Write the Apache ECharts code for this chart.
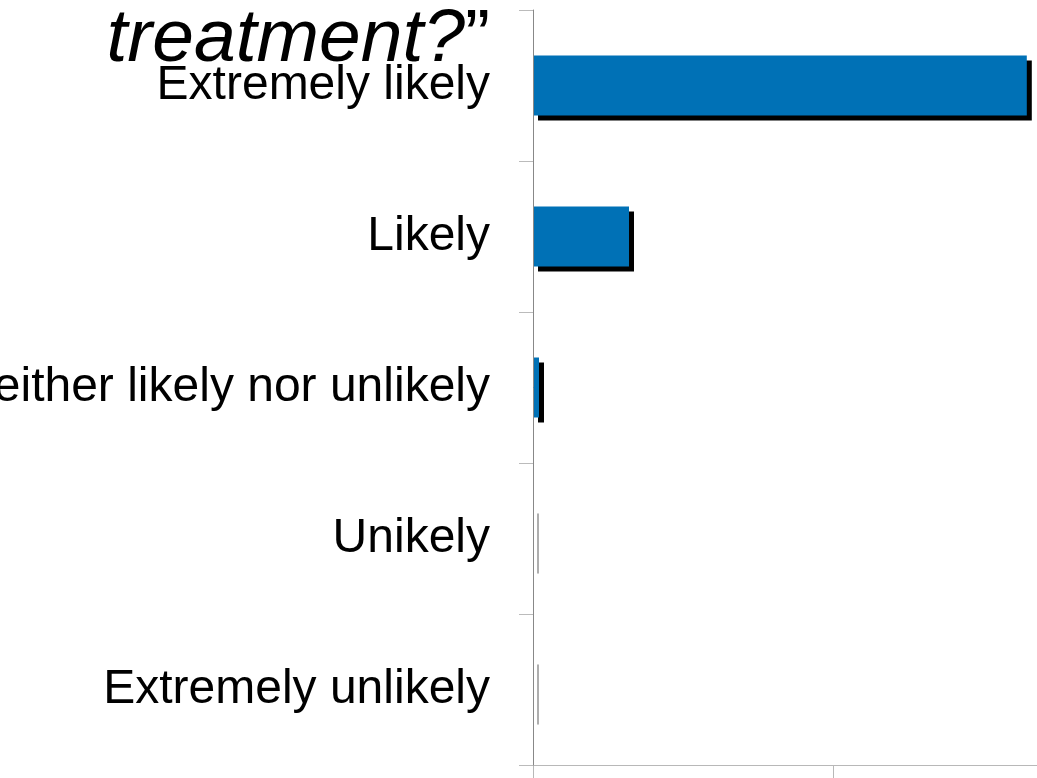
<!DOCTYPE html>
<html>
<head>
<meta charset="utf-8">
<script src="https://cdn.jsdelivr.net/npm/echarts@6/dist/echarts.min.js"></script>
<style>
  html, body { margin: 0; padding: 0; background: #fff; }
  #chart { width: 1037px; height: 778px; }
</style>
</head>
<body>
<div id="chart"></div>
<script>
// answers, top to bottom
const categories = [
  "Extremely likely",
  "Likely",
  "Neither likely nor unlikely",
  "Unikely",
  "Extremely unlikely"
];
const values = [82.3, 16.0, 1.0, 0, 0];
const xMin = 0;
const xMax = 100;
const xInterval = 50;

const blue = "#0071b6";

const chart = echarts.init(document.getElementById("chart"));

// zero bars only leave their shadow edge, like in the picture
const barData = values.map((v) => {
  if (v === 0) {
    return {
      value: v,
      itemStyle: {
        borderColor: "#fff",
        borderWidth: 1,
        shadowColor: "rgba(0,0,0,0.35)"
      }
    };
  }
  return v;
});

chart.setOption({
  animation: false,
  backgroundColor: "#fff",
  title: {
    text: "{it|treatment?}{q|\u201D}",
    right: 547,
    top: 3,
    padding: 0,
    textStyle: {
      fontWeight: "normal",
      rich: {
        it: {
          fontFamily: "Liberation Sans",
          fontStyle: "italic",
          fontWeight: "normal",
          fontSize: 75,
          color: "#000",
          lineHeight: 75
        },
        q: {
          fontFamily: "Liberation Sans",
          fontWeight: "normal",
          fontSize: 75,
          color: "#000",
          lineHeight: 75
        }
      }
    }
  },
  grid: {
    left: 533,
    top: 10,
    bottom: 13,
    right: -96,
    containLabel: false,
    outerBoundsMode: "none"
  },
  xAxis: {
    type: "value",
    min: xMin,
    max: xMax,
    interval: xInterval,
    splitLine: { show: false },
    axisLine: { show: true, lineStyle: { color: "#b8b8b8", width: 1 } },
    axisTick: { show: true, length: 16, lineStyle: { color: "#b8b8b8" } },
    axisLabel: { show: false }
  },
  yAxis: {
    type: "category",
    inverse: true,
    data: categories,
    z: 10,
    axisLine: { show: true, lineStyle: { color: "#888", width: 1 } },
    axisTick: { show: true, length: 14, lineStyle: { color: "#bbb" } },
    axisLabel: {
      margin: 43,
      fontFamily: "Liberation Sans",
      fontSize: 48,
      color: "#000"
    }
  },
  series: [{
    type: "bar",
    data: barData,
    barWidth: 60,
    itemStyle: {
      color: blue,
      shadowColor: "#000",
      shadowOffsetX: 5,
      shadowOffsetY: 5,
      shadowBlur: 0
    }
  }]
});
</script>
</body>
</html>
